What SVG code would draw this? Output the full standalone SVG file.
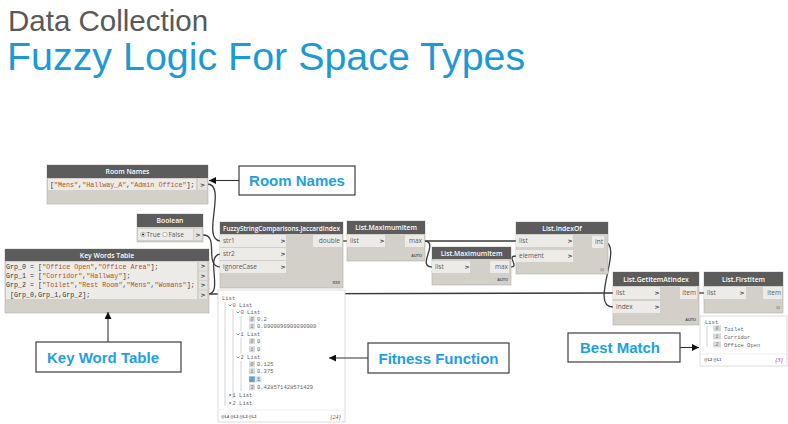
<svg xmlns="http://www.w3.org/2000/svg" width="788" height="424" viewBox="0 0 788 424">
<defs>
<style>
.body{fill:#d3cfc9;stroke:#b3afa9;stroke-width:0.6}
.hdr{fill:#5c5c5c}
.row{fill:#edebe7}
.port{fill:#e4e2de}
.ht{fill:#fff;font-family:"Open Sans","DejaVu Sans",sans-serif;font-size:6.8px;font-weight:600;text-anchor:middle}
.pt{fill:#5a5a5a;font-family:"Open Sans","DejaVu Sans",sans-serif;font-size:6.5px}
.pr{fill:#5a5a5a;font-family:"Open Sans","DejaVu Sans",sans-serif;font-size:6.5px;text-anchor:end}
.ch{fill:#444;font-family:"DejaVu Sans",sans-serif;font-size:6px;font-weight:bold;text-anchor:middle}
.code{fill:#333;font-family:"Liberation Mono","DejaVu Sans Mono",monospace;font-size:6.7px}
.s{fill:#a8552a}
.tiny{fill:#555;font-family:"Liberation Sans",sans-serif;font-size:3.8px;font-weight:bold;text-anchor:end}
.wt{fill:#666;font-family:"Liberation Mono","DejaVu Sans Mono",monospace;font-size:5.5px}
.ix{fill:#d9d9d9}
.it{fill:#777;font-family:"Liberation Mono","DejaVu Sans Mono",monospace;font-size:4.8px;font-style:italic;text-anchor:middle}
.tl{stroke:#b5b5b5;stroke-width:0.6;fill:none}
.cv{stroke:#3a7fc0;stroke-width:0.8;fill:none}
.wire{fill:none;stroke:#3a3a3a;stroke-width:1.3}
.watch{fill:#fff;stroke:#d5d5d5;stroke-width:0.8}
.call{fill:#fff;stroke:#3c3c3c;stroke-width:1.2}
.ct{fill:#1ea0e1;font-family:"Liberation Sans",Arial,sans-serif;font-size:15px;font-weight:bold;text-anchor:middle}
.arr{stroke:#333;stroke-width:1.1;fill:none}
</style>
<marker id="ah" viewBox="0 0 10 10" refX="10" refY="5" markerWidth="7" markerHeight="7" markerUnits="userSpaceOnUse" orient="auto">
<path d="M0,0 L10,5 L0,10 z" fill="#111"/>
</marker>
</defs>
<rect width="788" height="424" fill="#fff"/>

<g id="title">
<text x="8" y="31" font-family="Liberation Sans, Arial, sans-serif" font-size="29.5" fill="#595959">Data Collection</text>
<text x="7" y="70" font-family="Liberation Sans, Arial, sans-serif" font-size="39.4" fill="#1b9ad6">Fuzzy Logic For Space Types</text>
</g>

<g id="connectors">
<path class="wire" d="M209,294 C400,294 420,293 613,293"/>
<path class="wire" d="M207,184 C228,184 200,241 221,241"/>
<path class="wire" d="M203,235 C220,235 203,267 221,267"/>
<path class="wire" d="M208,294 C224,294 204,254 221,254"/>
<path class="wire" d="M343,241 L347,241"/>
<path class="wire" d="M424,241 C470,241 470,241 516,241"/>
<path class="wire" d="M424,241 C440,241 416,267 432,267"/>
<path class="wire" d="M510,267 C521,267 505,256 516,256"/>
<path class="wire" d="M603,242 C626,242 588,307 613,307"/>
<path class="wire" d="M698,293 L704,293"/>
</g>

<g id="room-names">
<rect class="body" x="47" y="165" width="161" height="39"/>
<rect class="hdr" x="47" y="165" width="161" height="13"/>
<text class="ht" x="127.5" y="174">Room Names</text>
<rect class="row" x="48" y="179" width="148" height="11"/>
<rect class="port" x="198" y="179" width="9" height="11"/>
<text class="code" x="50" y="186.8">[<tspan class="s">"Mens"</tspan>,<tspan class="s">"Hallway_A"</tspan>,<tspan class="s">"Admin Office"</tspan>];</text>
<text class="ch" x="202.5" y="186.5">&gt;</text>
</g>

<g id="boolean">
<rect class="body" x="137" y="214" width="66" height="28"/>
<rect class="hdr" x="137" y="214" width="66" height="13"/>
<text class="ht" x="170" y="223">Boolean</text>
<rect class="row" x="138" y="229" width="55" height="11"/>
<rect class="port" x="194" y="229" width="8" height="11"/>
<circle cx="143" cy="234.5" r="2.2" fill="#fff" stroke="#777" stroke-width="0.5"/>
<circle cx="143" cy="234.5" r="1.1" fill="#333"/>
<text class="pt" x="146.5" y="237" font-size="5.8">True</text>
<circle cx="165" cy="234.5" r="2.2" fill="#fff" stroke="#777" stroke-width="0.5"/>
<text class="pt" x="168.5" y="237" font-size="5.8">False</text>
<text class="ch" x="198" y="237">&gt;</text>
</g>

<g id="key-words-table">
<rect class="body" x="5" y="249" width="204" height="64"/>
<rect class="hdr" x="5" y="249" width="204" height="12"/>
<text class="ht" x="107" y="257.5">Key Words Table</text>
<rect class="row" x="6" y="262" width="191" height="37"/>
<rect class="port" x="199" y="262" width="8" height="8.5"/>
<rect class="port" x="199" y="271.5" width="8" height="8.5"/>
<rect class="port" x="199" y="281" width="8" height="8.5"/>
<rect class="port" x="199" y="290.5" width="8" height="8.5"/>
<text class="code" x="6" y="268.5">Grp_0 = [<tspan class="s">"Office Open"</tspan>,<tspan class="s">"Office Area"</tspan>];</text>
<text class="code" x="6" y="277.5">Grp_1 = [<tspan class="s">"Corridor"</tspan>,<tspan class="s">"Hallway"</tspan>];</text>
<text class="code" x="6" y="287.3">Grp_2 = [<tspan class="s">"Toilet"</tspan>,<tspan class="s">"Rest Room"</tspan>,<tspan class="s">"Mens"</tspan>,<tspan class="s">"Womans"</tspan>];</text>
<text class="code" x="10" y="296.5">[Grp_0,Grp_1,Grp_2];</text>
<text class="ch" x="203" y="268.3" font-size="5">&gt;</text>
<text class="ch" x="203" y="277.8" font-size="5">&gt;</text>
<text class="ch" x="203" y="287.3" font-size="5">&gt;</text>
<text class="ch" x="203" y="296.8" font-size="5">&gt;</text>
</g>

<g id="jaccard-index">
<rect class="body" x="220" y="222" width="123" height="66"/>
<rect class="hdr" x="220" y="222" width="123" height="12"/>
<text class="ht" x="281.5" y="230.5" textLength="117" lengthAdjust="spacingAndGlyphs">FuzzyStringComparisons.JaccardIndex</text>
<rect class="row" x="220" y="235" width="66" height="12"/>
<rect class="row" x="220" y="248" width="66" height="12"/>
<rect class="row" x="220" y="261" width="66" height="12"/>
<text class="pt" x="223" y="243.3">str1</text>
<text class="pt" x="223" y="256.3">str2</text>
<text class="pt" x="223" y="269.3">ignoreCase</text>
<text class="ch" x="283" y="243">&gt;</text>
<text class="ch" x="283" y="256">&gt;</text>
<text class="ch" x="283" y="269">&gt;</text>
<rect class="row" x="313" y="235" width="29" height="12"/>
<text class="pr" x="340" y="243.3">double</text>
<text class="tiny" x="340" y="284">XXX</text>
</g>

<g id="maximum-item-1">
<rect class="body" x="347" y="221" width="78" height="40"/>
<rect class="hdr" x="347" y="221" width="78" height="13"/>
<text class="ht" x="386" y="230">List.MaximumItem</text>
<rect class="row" x="347" y="235" width="38" height="12"/>
<text class="pt" x="350" y="243.3">list</text>
<text class="ch" x="382" y="243">&gt;</text>
<rect class="row" x="405" y="235" width="19" height="12"/>
<text class="pr" x="422" y="243.3">max</text>
<text class="tiny" x="422" y="256.5">AUTO</text>
</g>

<g id="maximum-item-2">
<rect class="body" x="432" y="247" width="79" height="38"/>
<rect class="hdr" x="432" y="247" width="79" height="12"/>
<text class="ht" x="471.5" y="255.5">List.MaximumItem</text>
<rect class="row" x="432" y="261" width="38" height="12"/>
<text class="pt" x="435" y="269.3">list</text>
<text class="ch" x="467" y="269">&gt;</text>
<rect class="row" x="490" y="261" width="19" height="12"/>
<text class="pr" x="508" y="269.3">max</text>
<text class="tiny" x="508" y="281">AUTO</text>
</g>

<g id="index-of">
<rect class="body" x="516" y="222" width="92" height="52"/>
<rect class="hdr" x="516" y="222" width="92" height="12"/>
<text class="ht" x="562" y="230.5">List.IndexOf</text>
<rect class="row" x="516" y="235" width="57" height="12"/>
<rect class="row" x="516" y="250" width="57" height="12"/>
<text class="pt" x="519" y="243.3">list</text>
<text class="pt" x="519" y="258.3">element</text>
<text class="ch" x="570" y="243">&gt;</text>
<text class="ch" x="570" y="258">&gt;</text>
<rect class="row" x="592" y="236" width="12" height="12"/>
<text class="pr" x="603" y="244.3">int</text>
<text x="604" y="271" font-family="Liberation Serif, serif" font-size="5" fill="#666" text-anchor="end">l|l</text>
</g>

<g id="get-item-at-index">
<rect class="body" x="613" y="272" width="86" height="53"/>
<rect class="hdr" x="613" y="272" width="86" height="14"/>
<text class="ht" x="656" y="281.5">List.GetItemAtIndex</text>
<rect class="row" x="613" y="287" width="47" height="12"/>
<rect class="row" x="613" y="301" width="47" height="12"/>
<text class="pt" x="616" y="295.3">list</text>
<text class="pt" x="616" y="309.3">index</text>
<text class="ch" x="657" y="295">&gt;</text>
<text class="ch" x="657" y="309">&gt;</text>
<rect class="row" x="680" y="287" width="17" height="12"/>
<text class="pr" x="696" y="295.3">item</text>
<text class="tiny" x="696" y="321">AUTO</text>
</g>

<g id="first-item">
<rect class="body" x="704" y="272" width="79" height="41"/>
<rect class="hdr" x="704" y="272" width="79" height="14"/>
<text class="ht" x="743.5" y="281.5">List.FirstItem</text>
<rect class="row" x="704" y="287" width="42" height="12"/>
<text class="pt" x="707" y="295.3">list</text>
<text class="ch" x="742" y="295">&gt;</text>
<rect class="row" x="763" y="287" width="19" height="12"/>
<text class="pr" x="781" y="295.3">item</text>
<text x="780" y="309" font-family="Liberation Serif, serif" font-size="5" fill="#666" text-anchor="end">l|l</text>
</g>

<g id="first-item-watch">
<rect class="watch" x="700" y="316" width="87" height="50"/>
<text class="wt" x="705" y="324">List</text>
<path class="tl" d="M707,326 V347"/>
<rect class="ix" x="713" y="325.5" width="8" height="6"/>
<text class="it" x="717" y="330.3">0</text>
<text class="wt" x="724" y="330.5">Toilet</text>
<rect class="ix" x="713" y="333.5" width="8" height="6"/>
<text class="it" x="717" y="338.3">1</text>
<text class="wt" x="724" y="338.5">Corridor</text>
<rect class="ix" x="713" y="341.5" width="8" height="6"/>
<text class="it" x="717" y="346.3">2</text>
<text class="wt" x="724" y="346.5">Office Open</text>
<line x1="700" y1="354" x2="787" y2="354" stroke="#e6e6e6" stroke-width="0.6"/>
<text x="704" y="361" font-family="Liberation Sans, sans-serif" font-size="3.8" font-weight="bold" fill="#555">@L2 @L1</text>
<text x="783" y="362" font-family="Liberation Serif, serif" font-size="6" font-style="italic" fill="#b03030" text-anchor="end">{3}</text>
</g>

<g id="jaccard-watch">
<rect class="watch" x="218" y="290" width="127" height="132"/>
<text class="wt" x="222" y="299.5">List</text>
<path class="tl" d="M225,302 V406 M233,309 V399 M241,316 V331 M241,338 V353 M241,361 V391"/>
<path class="cv" d="M228.5,304.5 L230,306 L231.5,304.5 M236.5,311.5 L238,313 L239.5,311.5 M236.5,333.5 L238,335 L239.5,333.5 M236.5,356.5 L238,358 L239.5,356.5"/>
<text class="wt" x="232.5" y="306.5">0 List</text>
<text class="wt" x="240.5" y="314">0 List</text>
<rect class="ix" x="249" y="316.3" width="6" height="6"/>
<text class="it" x="252" y="321">0</text>
<text class="wt" x="257" y="321.3">0.2</text>
<rect class="ix" x="249" y="323.3" width="6" height="6"/>
<text class="it" x="252" y="328">1</text>
<text class="wt" x="257" y="328.3">0.0909090909090909</text>
<text class="wt" x="240.5" y="336">1 List</text>
<rect class="ix" x="249" y="338.3" width="6" height="6"/>
<text class="it" x="252" y="343">0</text>
<text class="wt" x="257" y="343.3">0</text>
<rect class="ix" x="249" y="346.3" width="6" height="6"/>
<text class="it" x="252" y="351">1</text>
<text class="wt" x="257" y="351.3">0</text>
<text class="wt" x="240.5" y="359">2 List</text>
<rect class="ix" x="249" y="361.3" width="6" height="6"/>
<text class="it" x="252" y="366">0</text>
<text class="wt" x="257" y="366.3">0.125</text>
<rect class="ix" x="249" y="368.3" width="6" height="6"/>
<text class="it" x="252" y="373">1</text>
<text class="wt" x="257" y="373.3">0.375</text>
<rect x="249" y="376.3" width="6" height="6" fill="#6fa8dc"/>
<text class="it" x="252" y="381" fill="#fff">2</text>
<rect x="255.5" y="376.3" width="6" height="6" fill="#cfe2f3"/>
<text class="wt" x="257" y="381.3" fill="#2f6fb0">1</text>
<rect class="ix" x="249" y="384.3" width="6" height="6"/>
<text class="it" x="252" y="389">3</text>
<text class="wt" x="257" y="389.3">0.428571428571429</text>
<path d="M229.5,393.5 L231.5,395 L229.5,396.5 z M229.5,401.5 L231.5,403 L229.5,404.5 z" fill="#3a7fc0"/>
<text class="wt" x="232.5" y="397">1 List</text>
<text class="wt" x="232.5" y="405">2 List</text>
<line x1="218" y1="410" x2="345" y2="410" stroke="#e6e6e6" stroke-width="0.6"/>
<text x="221" y="418" font-family="Liberation Sans, sans-serif" font-size="3.8" font-weight="bold" fill="#555">@L4 @L3 @L2 @L1</text>
<text x="341" y="418.5" font-family="Liberation Serif, serif" font-size="6" font-style="italic" fill="#b03030" text-anchor="end">{24}</text>
</g>

<g id="callout-room-names">
<rect class="call" x="239" y="166" width="116" height="29"/>
<text class="ct" x="297" y="186">Room Names</text>
<line class="arr" x1="239" y1="180.5" x2="209" y2="180.5" marker-end="url(#ah)"/>
</g>

<g id="callout-key-word-table">
<rect class="call" x="36" y="342" width="145" height="30"/>
<text class="ct" x="103" y="362.5">Key Word Table</text>
<line class="arr" x1="108" y1="342" x2="108" y2="312" marker-end="url(#ah)"/>
</g>

<g id="callout-fitness-function">
<rect class="call" x="368" y="343" width="141" height="30"/>
<text class="ct" x="438.5" y="363.5">Fitness Function</text>
<line class="arr" x1="368" y1="358" x2="329" y2="358" marker-end="url(#ah)"/>
</g>

<g id="callout-best-match">
<rect class="call" x="568" y="333" width="112" height="29"/>
<text class="ct" x="620" y="352.5">Best Match</text>
<line class="arr" x1="680" y1="347.5" x2="699" y2="347.5" marker-end="url(#ah)"/>
</g>
</svg>
